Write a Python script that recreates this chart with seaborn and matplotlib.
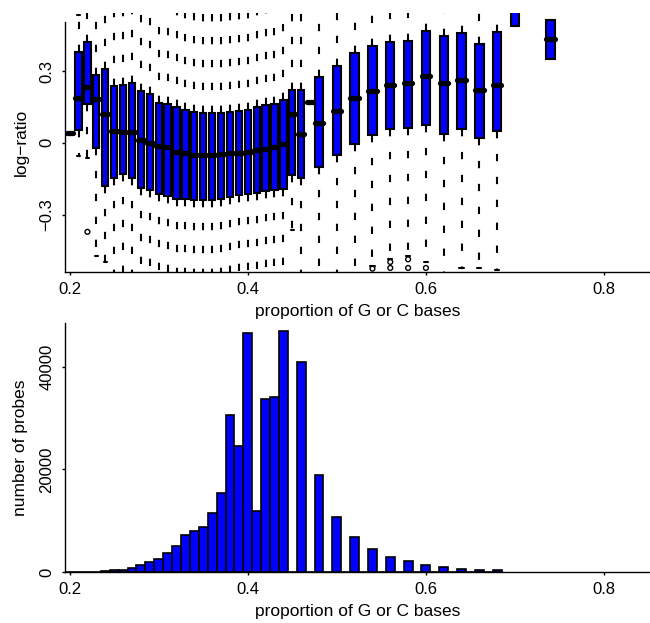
import numpy as np
import pandas as pd
import matplotlib
matplotlib.use("Agg")
import matplotlib.pyplot as plt
import seaborn as sns

# ---- log-ratio summaries per GC proportion -------------------------------
# bins spaced 0.01 apart
gc_fine = [0.20, 0.21, 0.22, 0.23, 0.24, 0.25, 0.26, 0.27, 0.28, 0.29,
           0.30, 0.31, 0.32, 0.33, 0.34, 0.35, 0.36, 0.37, 0.38, 0.39,
           0.40, 0.41, 0.42, 0.43, 0.44, 0.45, 0.46, 0.47]
lo_fine = [0.041, -0.056, -0.064, -0.474, -0.498, -0.70, -0.70, -0.70, -0.70, -0.70,
           -0.70, -0.70, -0.70, -0.70, -0.70, -0.70, -0.70, -0.70, -0.70, -0.70,
           -0.70, -0.70, -0.70, -0.70, -0.70, -0.365, -0.70, 0.172]
q1_fine = [0.041, 0.053, 0.162, -0.022, -0.180, -0.149, -0.131, -0.149, -0.188, -0.198,
           -0.212, -0.222, -0.233, -0.233, -0.240, -0.240, -0.240, -0.236, -0.226, -0.219,
           -0.215, -0.209, -0.201, -0.198, -0.191, -0.135, -0.149, 0.172]
med_fine = [0.041, 0.186, 0.232, 0.183, 0.119, 0.049, 0.046, 0.044, 0.011, 0.000,
            -0.014, -0.019, -0.038, -0.044, -0.051, -0.051, -0.051, -0.047, -0.044, -0.042,
            -0.038, -0.031, -0.024, -0.017, -0.003, 0.119, 0.039, 0.172]
q3_fine = [0.041, 0.380, 0.420, 0.283, 0.308, 0.237, 0.244, 0.251, 0.218, 0.203,
           0.165, 0.161, 0.148, 0.137, 0.130, 0.123, 0.126, 0.126, 0.130, 0.133,
           0.137, 0.151, 0.158, 0.162, 0.179, 0.223, 0.223, 0.172]
hi_fine = [0.041, 0.534, 0.70, 0.70, 0.70, 0.70, 0.70, 0.70, 0.70, 0.70,
           0.70, 0.70, 0.70, 0.70, 0.70, 0.70, 0.70, 0.70, 0.70, 0.70,
           0.70, 0.70, 0.70, 0.70, 0.70, 0.70, 0.70, 0.172]

# bins spaced 0.02 apart (high GC)
gc_coarse = [0.48, 0.50, 0.52, 0.54, 0.56, 0.58, 0.60, 0.62, 0.64, 0.66, 0.68, 0.70, 0.74]
lo_coarse = [-0.70, -0.70, -0.70, -0.515, -0.484, -0.473, -0.500, -0.70, -0.523, -0.523, -0.533, 0.490, 0.349]
q1_coarse = [-0.100, -0.049, -0.003, 0.032, 0.056, 0.063, 0.074, 0.039, 0.060, 0.021, 0.049, 0.490, 0.349]
med_coarse = [0.084, 0.134, 0.188, 0.218, 0.241, 0.249, 0.279, 0.251, 0.262, 0.221, 0.241, 0.620, 0.433]
q3_coarse = [0.274, 0.322, 0.374, 0.405, 0.420, 0.427, 0.469, 0.446, 0.458, 0.413, 0.462, 0.750, 0.513]
hi_coarse = [0.70, 0.70, 0.70, 0.70, 0.70, 0.70, 0.70, 0.70, 0.70, 0.70, 0.70, 0.750, 0.513]

# outlying probes
out_gc = [0.22, 0.54, 0.56, 0.56, 0.58, 0.58, 0.60]
out_lr = [-0.372, -0.526, -0.498, -0.523, -0.487, -0.523, -0.523]

# ---- probe counts per GC proportion --------------------------------------
hist_gc = [0.20, 0.21, 0.22, 0.23, 0.24, 0.25, 0.26, 0.27, 0.28, 0.29,
           0.30, 0.31, 0.32, 0.33, 0.34, 0.35, 0.36, 0.37, 0.38, 0.39,
           0.40, 0.41, 0.42, 0.43, 0.44, 0.46, 0.48, 0.50, 0.52, 0.54,
           0.56, 0.58, 0.60, 0.62, 0.64, 0.66, 0.68]
hist_n = [5, 10, 25, 50, 120, 300, 460, 790, 1300, 1890,
          2610, 3710, 5100, 7130, 8040, 8850, 11510, 15300, 30510, 24530,
          46500, 11900, 33760, 34090, 46900, 40860, 18930, 10670, 6900, 4490,
          2930, 2090, 1370, 980, 660, 470, 330]

x_ticks = [0.2, 0.4, 0.6, 0.8]
x_ticklabels = ["0.2", "0.4", "0.6", "0.8"]
lr_ticks = [-0.3, 0.0, 0.3]
lr_ticklabels = ["\u22120.3", "0", "0.3"]
n_ticks = [0, 20000, 40000]
n_ticklabels = ["0", "20000", "40000"]


def five_number_frame(gc, lo, q1, med, q3, hi):
    rows = []
    for g, a, b, c, d, e in zip(gc, lo, q1, med, q3, hi):
        for v in (a, b, c, d, e):
            rows.append((g, v))
    return pd.DataFrame(rows, columns=["gc", "log_ratio"])


sns.set_theme(style="ticks")
plt.rcParams["font.family"] = ["Liberation Sans", "DejaVu Sans"]
plt.rcParams.update({
    "axes.linewidth": 1.0,
    "axes.edgecolor": "black",
    "axes.labelcolor": "black",
    "text.color": "black",
    "xtick.color": "black",
    "ytick.color": "black",
    "xtick.major.width": 1.0,
    "ytick.major.width": 1.0,
    "xtick.major.size": 2.5,
    "ytick.major.size": 2.5,
})

BLUE = "#0000ff"
FS_TICK = 12
FS_LABEL = 12.5

fig = plt.figure(figsize=(6.5, 6.23), dpi=100)
W, H = 650.0, 623.0
ax1 = fig.add_axes([65 / W, (H - 272) / H, 585 / W, 259 / H])
ax2 = fig.add_axes([65 / W, (H - 572) / H, 585 / W, 249.3 / H])

box_kw = dict(
    x="gc", y="log_ratio", native_scale=True, whis=(0, 100),
    color=BLUE, saturation=1, linecolor="black", linewidth=1.5, fliersize=0,
    whiskerprops={"linestyle": (0, (3.5, 7.5))},
    medianprops={"linewidth": 3.8, "solid_capstyle": "round"},
    ax=ax1,
)
sns.boxplot(data=five_number_frame(gc_fine, lo_fine, q1_fine, med_fine, q3_fine, hi_fine),
            width=0.7, **box_kw)
sns.boxplot(data=five_number_frame(gc_coarse, lo_coarse, q1_coarse, med_coarse, q3_coarse, hi_coarse),
            width=0.47, **box_kw)
sns.scatterplot(x=out_gc, y=out_lr, marker="o", s=12, facecolor="none",
                edgecolor="black", linewidth=1.0, ax=ax1, zorder=5)

ax1.set_xlim(0.1948, 0.8516)
ax1.set_ylim(-0.540, 0.543)
ax1.set_xticks(x_ticks, x_ticklabels)
ax1.set_yticks(lr_ticks, lr_ticklabels)
ax1.set_xlabel("proportion of G or C bases", fontsize=FS_LABEL, labelpad=5)
ax1.set_ylabel("log\u2212ratio", fontsize=FS_LABEL, labelpad=8)
sns.despine(ax=ax1)
ax1.spines["left"].set_bounds(-0.540, 0.506)

# histogram of probe counts, one bar per 0.01 of GC proportion
counts = pd.DataFrame({"gc": hist_gc, "n": hist_n})
sns.histplot(data=counts, x="gc", weights="n", binwidth=0.01, binrange=(0.195, 0.685),
             color=BLUE, alpha=1, edgecolor="black", linewidth=1.2, ax=ax2)
ax2.set_xlim(0.1948, 0.8516)
ax2.set_ylim(0, 48585)
ax2.set_xticks(x_ticks, x_ticklabels)
ax2.set_yticks(n_ticks, n_ticklabels)
ax2.set_xlabel("proportion of G or C bases", fontsize=FS_LABEL, labelpad=5)
ax2.set_ylabel("number of probes", fontsize=FS_LABEL, labelpad=8)
sns.despine(ax=ax2)

for ax in (ax1, ax2):
    ax.tick_params(axis="x", labelsize=FS_TICK, pad=5)
    ax.tick_params(axis="y", labelsize=FS_TICK, pad=5)
    for lab in ax.get_yticklabels():
        lab.set_rotation(90)
        lab.set_va("center")
    ax.grid(False)

fig.savefig("out.png", dpi=100)
